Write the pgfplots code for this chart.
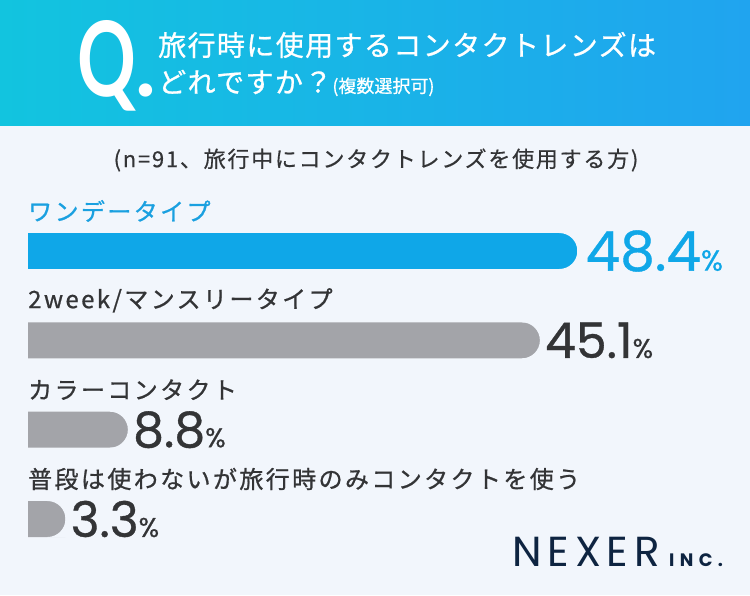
\documentclass[border=0pt]{standalone}
\usepackage{pgfplots}
\pgfplotsset{compat=1.18}
\usepackage{pgfplotstable}
\usepackage{fontspec}
\setmainfont{Noto Sans CJK JP}
\newfontfamily\cjk[FakeBold=0.6]{Noto Sans CJK JP}
\newfontfamily\cjklab[LetterSpace=10,FakeBold=0.8]{Noto Sans CJK JP}
\newfontfamily\cjktitle[LetterSpace=5,FakeBold=0.8]{Noto Sans CJK JP}
\newfontfamily\cjksub[LetterSpace=8,FakeBold=0.5]{Noto Sans CJK JP}
\newfontfamily\num[FakeBold=0.7]{Poppins}
\newfontfamily\qfont{Lato}
\newfontfamily\nexer[LetterSpace=14]{Poppins}
\newfontfamily\nexerinc[LetterSpace=30]{Poppins}

\definecolor{bgc}{HTML}{F2F6FC}
\definecolor{hl}{HTML}{12C4DF}
\definecolor{hr}{HTML}{20A4EF}
\definecolor{barblue}{HTML}{0FA7E8}
\definecolor{bargray}{HTML}{A3A4A9}
\definecolor{dark}{HTML}{333436}
\definecolor{labblue}{HTML}{1AA0E0}
\definecolor{navy}{HTML}{0E2441}

\pgfdeclareplotmark{capR}{%
  \pgfpathmoveto{\pgfpoint{0.7pt}{18.7pt}}%
  \pgfpathlineto{\pgfpoint{-18pt}{18.7pt}}%
  \pgfpathlineto{\pgfpoint{-18pt}{18pt}}%
  \pgfpatharc{90}{-90}{18pt}%
  \pgfpathlineto{\pgfpoint{-18pt}{-18.7pt}}%
  \pgfpathlineto{\pgfpoint{0.7pt}{-18.7pt}}%
  \pgfpathclose
  \pgfusepathqfill}

\pgfplotstableread{
idx val lab
0 48.4 48.4
}\tblue
\pgfplotstableread{
idx val lab
1 45.1 45.1
2 8.8 8.8
3 3.3 3.3
}\tgray

\begin{document}
\begin{tikzpicture}[x=1pt,y=-1pt]
\useasboundingbox (0,0) rectangle (750,595);
\fill[bgc] (0,0) rectangle (750,595);
\shade[left color=hl, right color=hr] (0,0) rectangle (750,125);

% header
\node[anchor=base west, inner sep=0pt, text=white, font=\qfont\bfseries\fontsize{104}{104}\selectfont, xscale=0.70] at (77,96) {Q};
\node[anchor=base west, inner sep=0pt, text=white, font=\qfont\bfseries\fontsize{88}{88}\selectfont] at (135,96) {.};
\node[anchor=west, inner sep=0pt, text=white, font=\cjktitle\fontsize{28}{28}\selectfont] at (158,45) {旅行時に使用するコンタクトレンズは};
\node[anchor=west, inner sep=0pt, text=white, font=\cjktitle\fontsize{28}{28}\selectfont] at (158,83) {どれですか？{\cjk\fontsize{18}{18}\selectfont(複数選択可)}};

% subtitle
\node[inner sep=0pt, text=dark, font=\cjksub\fontsize{22}{22}\selectfont] at (376,160) {(n=91、旅行中にコンタクトレンズを使用する方)};

\begin{axis}[
  at={(28pt,-251pt)}, anchor=origin, scale only axis,
  width=700pt, height=357.333pt,
  xmin=0, xmax=61.674, ymin=-0.5, ymax=3.5, y dir=reverse,
  hide axis, clip=false,
  bar width=36pt,
]
\addplot[xbar, bar shift=0pt, fill=barblue, draw=none,
  point meta=explicit symbolic,
  nodes near coords={\pgfplotspointmeta{\fontsize{29}{29}\selectfont\%}},
  nodes near coords style={anchor=west, xshift=8pt, inner sep=0pt, text=barblue, font=\num\fontsize{55}{55}\selectfont}]
  table[x=val, y=idx, meta=lab]{\tblue};
\addplot[xbar, bar shift=0pt, fill=bargray, draw=none,
  point meta=explicit symbolic,
  nodes near coords={\pgfplotspointmeta{\fontsize{27}{27}\selectfont\%}},
  nodes near coords style={anchor=west, xshift=5pt, inner sep=0pt, text=dark, font=\num\fontsize{49}{49}\selectfont}]
  table[x=val, y=idx, meta=lab]{\tgray};
\addplot[only marks, mark=capR, color=bgc, draw=none, fill=bgc] table[x=val, y=idx]{\tblue};
\addplot[only marks, mark=capR, color=bgc, draw=none, fill=bgc] table[x=val, y=idx]{\tgray};

\node[anchor=west, inner sep=0pt, text=labblue, font=\cjklab\fontsize{24}{24}\selectfont] at (axis cs:0,-0.448) {ワンデータイプ};
\node[anchor=west, inner sep=0pt, text=dark, font=\cjklab\fontsize{24}{24}\selectfont] at (axis cs:0,0.552) {2week/マンスリータイプ};
\node[anchor=west, inner sep=0pt, text=dark, font=\cjklab\fontsize{24}{24}\selectfont] at (axis cs:0,1.552) {カラーコンタクト};
\node[anchor=west, inner sep=0pt, text=dark, font=\cjklab\fontsize{24}{24}\selectfont] at (axis cs:0,2.552) {普段は使わないが旅行時のみコンタクトを使う};
\end{axis}

% logo
\node[anchor=base west, inner sep=0pt, text=navy, font=\nexer\fontsize{42}{42}\selectfont] at (512,566) {NEXER};
\node[anchor=base west, inner sep=0pt, text=navy, font=\nexerinc\bfseries\fontsize{18}{18}\selectfont] at (669,566) {INC.};
\end{tikzpicture}
\end{document}
